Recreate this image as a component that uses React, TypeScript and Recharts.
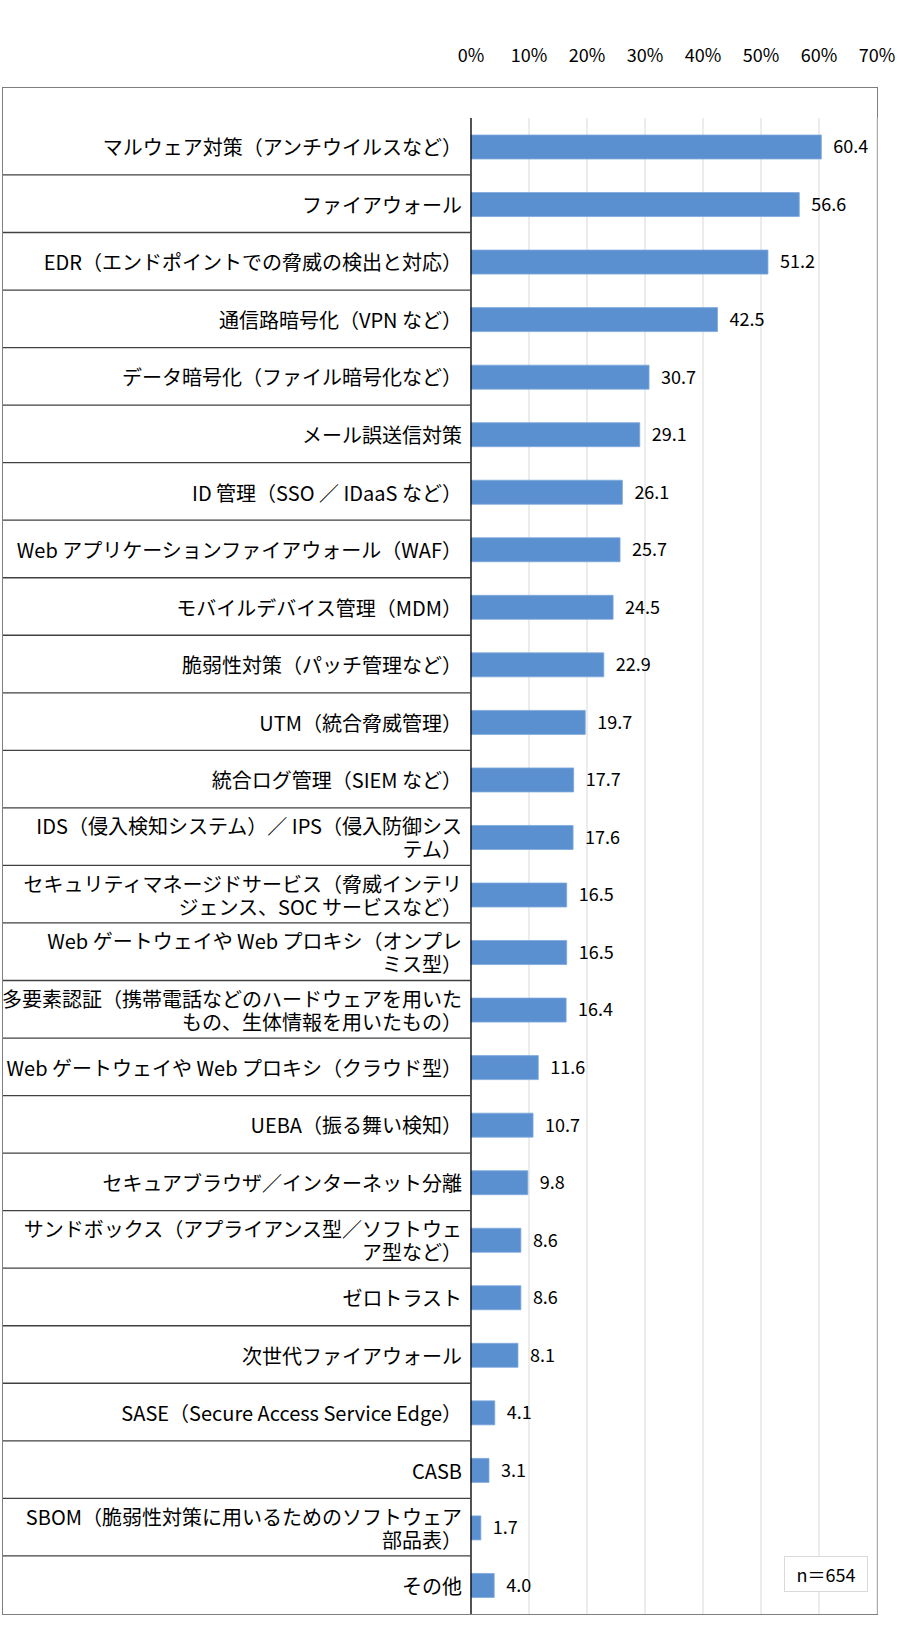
import { BarChart, Bar, XAxis, YAxis, CartesianGrid, LabelList } from "recharts";

const categories = [
  "マルウェア対策（アンチウイルスなど）",
  "ファイアウォール",
  "EDR（エンドポイントでの脅威の検出と対応）",
  "通信路暗号化（VPN など）",
  "データ暗号化（ファイル暗号化など）",
  "メール誤送信対策",
  "ID 管理（SSO ／ IDaaS など）",
  "Web アプリケーションファイアウォール（WAF）",
  "モバイルデバイス管理（MDM）",
  "脆弱性対策（パッチ管理など）",
  "UTM（統合脅威管理）",
  "統合ログ管理（SIEM など）",
  "IDS（侵入検知システム）／ IPS（侵入防御シス\nテム）",
  "セキュリティマネージドサービス（脅威インテリ\nジェンス、SOC サービスなど）",
  "Web ゲートウェイや Web プロキシ（オンプレ\nミス型）",
  "多要素認証（携帯電話などのハードウェアを用いた\nもの、生体情報を用いたもの）",
  "Web ゲートウェイや Web プロキシ（クラウド型）",
  "UEBA（振る舞い検知）",
  "セキュアブラウザ／インターネット分離",
  "サンドボックス（アプライアンス型／ソフトウェ\nア型など）",
  "ゼロトラスト",
  "次世代ファイアウォール",
  "SASE（Secure Access Service Edge）",
  "CASB",
  "SBOM（脆弱性対策に用いるためのソフトウェア\n部品表）",
  "その他",
];

const values = [
  60.4, 56.6, 51.2, 42.5, 30.7, 29.1, 26.1, 25.7, 24.5, 22.9, 19.7, 17.7, 17.6,
  16.5, 16.5, 16.4, 11.6, 10.7, 9.8, 8.6, 8.6, 8.1, 4.1, 3.1, 1.7, 4.0,
];

const percentTicks = [0, 10, 20, 30, 40, 50, 60, 70];

const sampleNote = "n＝654";

const data = categories.map((name, i) => ({ name, value: values[i] }));

const FONT = '"Noto Sans CJK JP", "Noto Sans", sans-serif';
const W = 900;
const H = 1636;
const LEFT = 3;
const PLOT_LEFT = 471;
const PLOT_RIGHT = 877;
const PLOT_TOP = 88;
const PLOT_BOTTOM = 1614;
const BAND = (PLOT_BOTTOM - PLOT_TOP) / categories.length;

// row labels, plus the table line above each row
const CategoryTick = (props: any) => {
  const { y, payload, index } = props;
  const lines = String(payload.value).split("\n");
  const lh = 23;
  const start = -((lines.length - 1) * lh) / 2;
  return (
    <g>
      {index > 0 && (
        <line
          x1={LEFT}
          x2={PLOT_LEFT}
          y1={y - BAND / 2}
          y2={y - BAND / 2}
          stroke="#404040"
          strokeWidth={1.3}
        />
      )}
      {lines.map((l, i) => (
        <text
          key={i}
          x={PLOT_LEFT - 9}
          y={y + start + i * lh}
          textAnchor="end"
          dominantBaseline="central"
          fontFamily={FONT}
          fontSize={20}
          fill="#000"
        >
          {l}
        </text>
      ))}
    </g>
  );
};

const PercentTick = (props: any) => {
  const { x, payload } = props;
  return (
    <text
      x={x}
      y={54}
      textAnchor="middle"
      dominantBaseline="central"
      fontFamily={FONT}
      fontSize={18}
      fill="#000"
    >
      {payload.value}%
    </text>
  );
};

export default function App() {
  return (
    <div style={{ position: "absolute", left: 0, top: 0, width: W, height: H, background: "#fff" }}>
      <div
        style={{
          position: "absolute",
          left: LEFT - 1,
          top: PLOT_TOP - 1,
          width: PLOT_RIGHT - LEFT,
          height: PLOT_BOTTOM - PLOT_TOP,
          border: "1.5px solid #7f7f7f",
        }}
      />
      <div style={{ position: "absolute", left: 0, top: 0 }}>
        <BarChart
          width={W}
          height={H}
          data={data}
          layout="vertical"
          margin={{ top: PLOT_TOP, bottom: H - PLOT_BOTTOM, left: LEFT, right: W - PLOT_RIGHT }}
          barCategoryGap={0}
        >
          <CartesianGrid horizontal={false} vertical stroke="#d9d9d9" />
          <XAxis
            type="number"
            orientation="top"
            domain={[0, 70]}
            ticks={percentTicks}
            interval={0}
            axisLine={false}
            tickLine={false}
            tick={<PercentTick />}
          />
          <YAxis
            type="category"
            dataKey="name"
            width={PLOT_LEFT - LEFT}
            interval={0}
            tickLine={false}
            axisLine={{ stroke: "#000", strokeWidth: 1.3 }}
            tick={<CategoryTick />}
          />
          <Bar dataKey="value" fill="#5b90d0" stroke="#7ea8dc" strokeWidth={0.8} barSize={24} isAnimationActive={false}>
            <LabelList
              dataKey="value"
              position="right"
              offset={12}
              fill="#000"
              fontFamily={FONT}
              fontSize={18}
              formatter={(v: any) => Number(v).toFixed(1)}
            />
          </Bar>
        </BarChart>
      </div>
      <div
        style={{
          position: "absolute",
          left: 784,
          top: 1556,
          width: 84,
          height: 36,
          border: "1px solid #d9d9d9",
          background: "#fff",
          fontFamily: FONT,
          fontSize: 18,
          display: "flex",
          alignItems: "center",
          justifyContent: "center",
          boxSizing: "border-box",
        }}
      >
        {sampleNote}
      </div>
    </div>
  );
}
